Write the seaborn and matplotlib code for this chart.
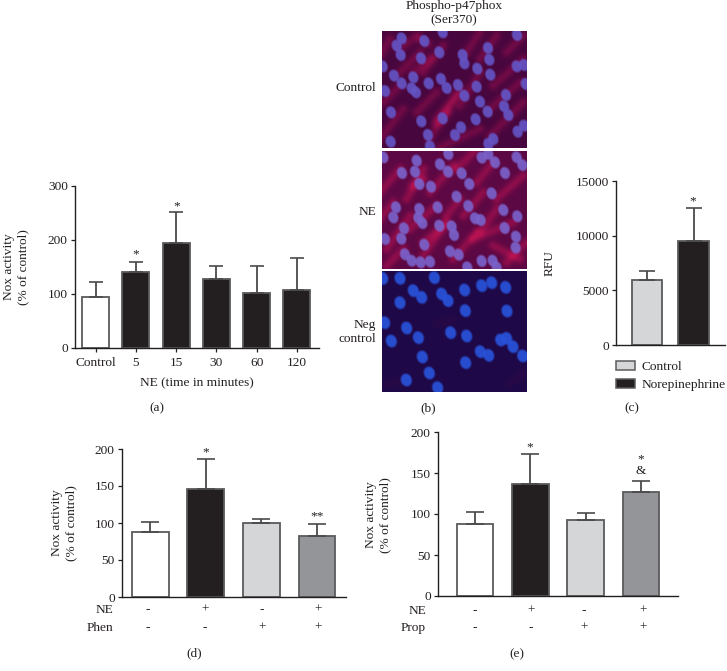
#!/usr/bin/env python3
import numpy as np
import matplotlib
matplotlib.use("Agg")
import matplotlib.pyplot as plt
from matplotlib.patches import Patch
import seaborn as sns

W, H = 727, 671

WHITE = "#ffffff"
BLACK = "#231f20"
LIGHT = "#d5d6d8"
MID = "#939598"
EDGE = "#5a5b5d"

# panel (a)
a_labels = ["Control", "5", "15", "30", "60", "120"]
a_values = [95, 140, 195, 127, 102, 107]
a_tops = [123, 160, 251, 152, 151, 167]
a_colors = [WHITE, BLACK, BLACK, BLACK, BLACK, BLACK]

# panel (c)
c_labels = ["Control", "Norepinephrine"]
c_values = [5900, 9500]
c_tops = [6800, 12500]
c_colors = [LIGHT, BLACK]

# panels (d) and (e)
de_colors = [WHITE, BLACK, LIGHT, MID]
d_labels = ["none", "NE", "Phen", "NE+Phen"]
d_values = [88, 146, 100, 83]
d_tops = [102, 186, 105, 99]
e_labels = ["none", "NE", "Prop", "NE+Prop"]
e_values = [88, 136, 93, 127]
e_tops = [103, 173, 101, 140]
ne_signs = ["-", "+", "-", "+"]
blocker_signs = ["-", "-", "+", "+"]

# micrographs in panel (b): nuclei centres and fibre streaks, read at 3x zoom
ctrl_nuclei = [(65,28),(50,50),(62,78),(188,10),(133,36),(178,70),(123,88),(248,78),(253,103),(324,57),
               (328,92),(411,18),(410,112),(432,108),(292,119),(331,137),(8,112),(42,140),(100,145),(65,163),
               (15,186),(95,178),(108,190),(146,163),(183,150),(200,177),(234,168),(290,173),(253,200),(378,198),
               (437,165),(300,218),(372,232),(385,258),(323,248),(33,250),(124,277),(188,268),(287,271),(243,295),
               (225,318),(144,318),(32,338),(340,330),(325,345),(413,308),(432,290),(150,352)]
ctrl_streaks = [(0,330,70,240),(150,330,240,180),(170,270,230,200),(130,130,190,50),(60,60,110,20),(100,130,150,90),
                (240,230,300,130),(330,240,420,160),(260,70,300,10),(380,70,430,20),(180,355,300,300),(330,320,430,220),
                (10,220,60,170),(110,250,170,190),(300,90,350,20),(60,130,120,70),(340,170,430,90),(0,80,30,30),
                (170,285,205,250),(120,30,145,45)]
ne_nuclei = [(205,15),(110,35),(180,46),(10,25),(305,26),(325,15),(345,40),(410,25),(427,48),(66,72),
             (105,68),(204,68),(245,73),(375,72),(118,105),(153,113),(268,105),(335,133),(230,143),(265,171),
             (48,175),(118,180),(173,175),(370,183),(40,205),(115,207),(127,222),(285,208),(302,213),(412,202),
             (178,230),(215,232),(72,238),(374,237),(222,258),(15,270),(64,269),(408,263),(133,287),(407,296),
             (210,307),(236,317),(75,316),(95,335),(122,340),(150,338),(305,336),(338,335),(262,355),(350,355)]
ne_streaks = [(0,130,60,60),(20,300,90,200),(80,150,130,60),(130,320,200,220),(230,60,290,0),(290,100,340,40),
              (220,330,290,250),(280,270,400,220),(300,250,350,180),(90,240,170,170),(350,150,430,80),(0,210,40,160),
              (150,130,220,50),(130,280,190,230),(380,340,440,280),(20,350,70,300),(250,200,310,130),(200,200,240,150),
              (100,110,130,90),(340,290,420,330)]
neg_nuclei = [(8,25),(60,25),(163,23),(100,62),(125,82),(185,72),(204,92),(254,60),(305,47),(335,38),
              (377,52),(60,98),(256,122),(381,123),(14,158),(80,174),(212,188),(115,203),(260,198),(34,213),
              (362,210),(380,205),(399,230),(301,245),(326,256),(428,258),(127,261),(257,278),(148,309),(79,330),
              (173,353)]
neg_streaks = [(10,345,60,335),(390,340,430,310),(170,160,220,150)]

sns.set_theme(style="ticks")
plt.rcParams["font.family"] = ["Liberation Serif", "DejaVu Serif"]
plt.rcParams["text.color"] = BLACK
plt.rcParams["axes.edgecolor"] = BLACK
plt.rcParams["xtick.color"] = BLACK
plt.rcParams["ytick.color"] = BLACK

TICK_FS = 9.6
fig = plt.figure(figsize=(W / 100, H / 100), dpi=100, facecolor="white")


def label(x, y, s, ha="center", fs=TICK_FS, **kw):
    # place text by pixel position in the 727x671 frame
    fig.text(x / W, 1 - y / H, s, ha=ha, va="center", fontsize=fs, **kw)


def bar_panel(left, right, top, bottom, labels, values, tops, colors, width, ylim, yticks, xlim, capsize, xticks=False):
    ax = fig.add_axes([left / W, 1 - bottom / H, (right - left) / W, (bottom - top) / H])
    sns.barplot(x=labels, y=values, hue=labels, palette=colors, legend=False, saturation=1, width=width,
                errorbar=None, edgecolor=EDGE, linewidth=1.3, ax=ax)
    xs = np.arange(len(values))
    lower = np.zeros(len(values))
    upper = np.array(tops) - np.array(values)
    ax.errorbar(xs, values, yerr=[lower, upper], fmt="none", ecolor="#4a4a4c", elinewidth=1.3, capsize=capsize, capthick=1.2)
    ax.set_xlim(*xlim)
    ax.set_ylim(*ylim)
    ax.set_yticks(yticks)
    ax.patch.set_alpha(0)
    ax.tick_params(axis="y", length=3.2, width=0.9, labelsize=TICK_FS, pad=2)
    if xticks:
        ax.tick_params(axis="x", length=3.2, width=0.9, labelsize=TICK_FS, pad=3)
    else:
        ax.tick_params(axis="x", length=0, labelbottom=False)
    ax.set_xlabel("")
    ax.set_ylabel("")
    sns.despine(ax=ax)
    for s in ("left", "bottom"):
        ax.spines[s].set_linewidth(1.0)
    return ax


def micrograph(left, right, top, bottom, offset, nuclei, streaks, base, streak_rgb, nuc_rgb, streak_gain, radii):
    w, h = right - left, bottom - top
    yy, xx = np.mgrid[0:h, 0:w] + 0.5
    img = np.ones((h, w, 3)) * np.array(base, dtype=float)
    glow = np.zeros((h, w))
    for x0, y0, x1, y1 in streaks:
        x0, y0, x1, y1 = (x0 - 6) / 3, (y0 - offset) / 3, (x1 - 6) / 3, (y1 - offset) / 3
        dx, dy = x1 - x0, y1 - y0
        t = np.clip(((xx - x0) * dx + (yy - y0) * dy) / (dx * dx + dy * dy), 0, 1)
        d2 = (xx - x0 - t * dx) ** 2 + (yy - y0 - t * dy) ** 2
        glow += np.exp(-d2 / 22.0)
    glow = np.clip(glow * streak_gain, 0, 1)[..., None]
    img = img * (1 - glow) + np.array(streak_rgb, dtype=float) * glow
    ang = np.deg2rad(18)
    for nx, ny in nuclei:
        cx, cy = (nx - 6) / 3, (ny - offset) / 3
        u = (xx - cx) * np.cos(ang) - (yy - cy) * np.sin(ang)
        v = (xx - cx) * np.sin(ang) + (yy - cy) * np.cos(ang)
        r = np.sqrt((u / radii[0]) ** 2 + (v / radii[1]) ** 2)
        mask = np.clip((1.2 - r) / 0.4, 0, 1)[..., None] * 0.92
        img = img * (1 - mask) + np.array(nuc_rgb, dtype=float) * mask
    ax = fig.add_axes([left / W, 1 - bottom / H, w / W, h / H])
    ax.imshow(img / 255, interpolation="bicubic", aspect="auto")
    ax.set_axis_off()
    return ax


# (a)
bar_panel(75, 319, 186, 348, a_labels, a_values, a_tops, a_colors, 0.67, (0, 300), [0, 100, 200, 300],
          (-0.51, 5.55), 4.7, xticks=True)
label(16, 267, "Nox activity\n(% of control)", rotation=90, linespacing=1.25)
label(197, 383, "NE (time in minutes)")
label(157, 408, "(a)")
label(136, 254, "*")
label(177, 206, "*")

# (b)
micrograph(382, 527, 31, 148, 6, ctrl_nuclei, ctrl_streaks, (72, 6, 62), (165, 16, 80), (100, 84, 196), 0.42, (4.9, 6.0))
micrograph(382, 527, 151, 269, 6, ne_nuclei, ne_streaks, (92, 8, 68), (180, 18, 80), (122, 98, 202), 0.55, (4.9, 6.0))
micrograph(382, 527, 271, 392, 3, neg_nuclei, neg_streaks, (30, 8, 72), (55, 10, 70), (40, 82, 218), 0.4, (5.4, 6.4))
label(454, 13, "Phospho-p47phox\n(Ser370)", linespacing=1.25)
label(376, 88, "Control", ha="right")
label(376, 212, "NE", ha="right")
label(376, 332, "Neg\ncontrol", ha="right", linespacing=1.3)
label(428, 408, "(b)")

# (c)
ax_c = bar_panel(616, 725, 181, 345, c_labels, c_values, c_tops, c_colors, 0.655, (0, 15000),
                 [0, 5000, 10000, 15000], (-0.664, 1.67), 5.7)
label(550, 263, "RFU", rotation=90)
label(693, 201, "*")
handles = [Patch(facecolor=c, edgecolor=EDGE, linewidth=1.1) for c in c_colors]
fig.legend(handles, c_labels, loc="upper left", bbox_to_anchor=(612 / W, 1 - 357 / H), frameon=False, fontsize=TICK_FS,
           handlelength=1.4, handleheight=0.7, handletextpad=0.55, labelspacing=0.42, borderaxespad=0, borderpad=0.3)
label(632, 408, "(c)")

# (d)
bar_panel(122, 346, 449, 597, d_labels, d_values, d_tops, de_colors, 0.66, (0, 200), [0, 50, 100, 150, 200],
          (-0.507, 3.52), 6.8)
label(64, 523, "Nox activity\n(% of control)", rotation=90, linespacing=1.25)
label(206, 452, "*")
label(317, 516, "**")
label(113, 610, "NE", ha="right")
label(113, 628, "Phen", ha="right")
for x, a, b in zip([148, 205, 262, 318], ne_signs, blocker_signs):
    label(x, 610, a)
    label(x, 628, b)
label(194, 653, "(d)")

# (e)
bar_panel(438, 678, 432, 596, e_labels, e_values, e_tops, de_colors, 0.66, (0, 200), [0, 50, 100, 150, 200],
          (-0.669, 3.67), 6.5)
label(378, 515, "Nox activity\n(% of control)", rotation=90, linespacing=1.25)
label(530, 447, "*")
label(641, 459, "*")
label(641, 471, "&")
label(426, 611, "NE", ha="right")
label(426, 628, "Prop", ha="right")
for x, a, b in zip([475, 531, 584, 643], ne_signs, blocker_signs):
    label(x, 611, a)
    label(x, 628, b)
label(517, 654, "(e)")

fig.savefig("out.png", dpi=100)
